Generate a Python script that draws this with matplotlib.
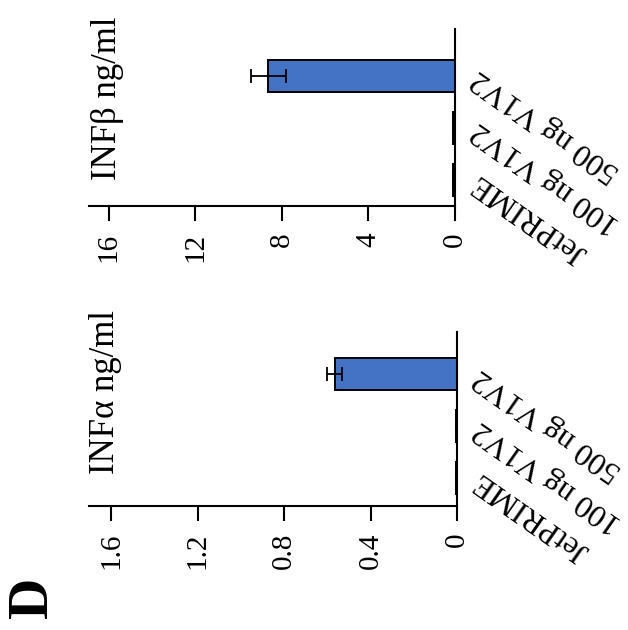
import matplotlib
matplotlib.use("Agg")
import matplotlib.pyplot as plt

plt.rcParams['font.family'] = ['Liberation Serif', 'DejaVu Serif']

categories = ["JetPRIME", "100 ng V1V2", "500 ng V1V2"]
ifnb_mean = [0.1, 0.1, 8.63]
ifnb_err = [0.0, 0.0, 0.81]
ifna_mean = [0.006, 0.006, 0.565]
ifna_err = [0.0, 0.0, 0.035]
ifnb_ticks = [0, 4, 8, 12, 16]
ifnb_ticklabels = ["0", "4", "8", "12", "16"]
ifna_ticks = [0, 0.4, 0.8, 1.2, 1.6]
ifna_ticklabels = ["0", "0.4", "0.8", "1.2", "1.6"]

W, H = 628, 630
fig = plt.figure(figsize=(W / 100, H / 100), dpi=100)

BAR_COLOR = "#4472C4"


def px_axes(x0, y0, x1, y1):
    return fig.add_axes([x0 / W, 1 - y1 / H, (x1 - x0) / W, (y1 - y0) / H])


def panel(ax, means, errs, ticks, ticklabels, xmax, ylim):
    pos = list(range(len(categories)))
    ax.barh(pos, means, height=0.62, color=BAR_COLOR, edgecolor="black",
            linewidth=1.4, xerr=errs,
            error_kw=dict(ecolor="black", elinewidth=1.3, capsize=5, capthick=1.3))
    ax.set_xlim(xmax, 0)
    ax.set_ylim(*ylim)
    ax.set_xticks(ticks)
    ax.set_xticklabels(ticklabels)
    ax.set_yticks(pos)
    ax.set_yticklabels(categories)
    for s in ("top", "left"):
        ax.spines[s].set_visible(False)
    for s in ("bottom", "right"):
        ax.spines[s].set_linewidth(1.5)
    ax.tick_params(axis="x", direction="out", length=11, width=1.5,
                   labelsize=21, pad=8, labelrotation=90)
    ax.tick_params(axis="y", length=0, left=False, right=False,
                   labelleft=False, labelright=True, labelsize=23, pad=14)
    for lab in ax.get_yticklabels():
        lab.set_rotation(145)
        lab.set_rotation_mode("anchor")
        lab.set_ha("right")
        lab.set_va("center")


ax1 = px_axes(89, 29, 455, 206)
panel(ax1, ifnb_mean, ifnb_err, ifnb_ticks, ifnb_ticklabels, 16.92, (-0.5, 2.9))

ax2 = px_axes(89, 332, 457, 506)
panel(ax2, ifna_mean, ifna_err, ifna_ticks, ifna_ticklabels, 1.702, (-0.54, 2.81))

fig.text(107 / W, 1 - 98 / H, "INFβ ng/ml", rotation=90, fontsize=25,
         ha="center", va="center")
fig.text(105 / W, 1 - 392 / H, "INFα ng/ml", rotation=90, fontsize=25,
         ha="center", va="center")
fig.text(33 / W, 1 - 597 / H, "D", rotation=90, fontsize=41,
         fontweight="bold", ha="center", va="center")

fig.savefig("out.png", dpi=100)
